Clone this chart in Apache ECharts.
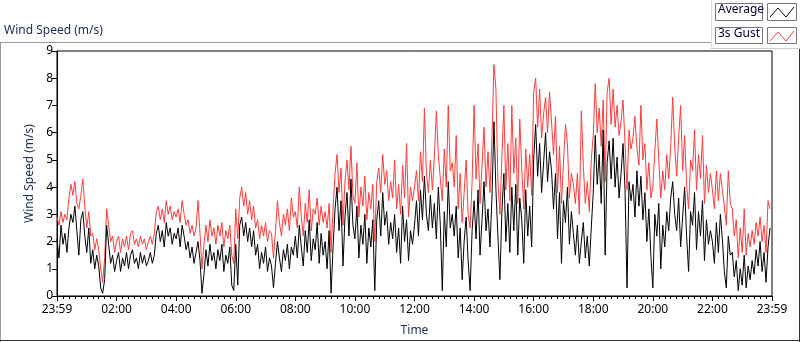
<!DOCTYPE html>
<html>
<head>
    <meta charset="utf-8">
    <title>Wind Speed</title>
    <script src="https://cdn.jsdelivr.net/npm/echarts@6/dist/echarts.min.js"></script>
    <style>
        body { margin: 0; background: #fff; }
    </style>
</head>
<body>
    <div id="windChart" style="width:800px; height:342px;"></div>
    <script>
        // one sample every 4 minutes, starting at 23:59
        var stepMin = 4;
        var tickLabels = ['23:59', '02:00', '04:00', '06:00', '08:00', '10:00', '12:00',
                          '14:00', '16:00', '18:00', '20:00', '22:00', '23:59'];

        var avgData = [
            2.1,1.4,2.6,1.9,2.3,1.6,2.5,3.0,2.7,3.3,
            2.4,1.5,2.8,3.1,2.2,1.6,2.5,1.2,1.7,1.0,
            1.5,1.1,0.3,0.1,0.6,2.6,1.9,1.2,1.5,0.9,
            1.3,1.6,0.9,1.4,1.1,1.6,1.0,1.5,1.7,1.2,
            1.4,1.0,1.6,1.2,1.5,1.1,1.3,1.6,1.2,1.5,
            2.3,2.6,2.0,2.4,1.8,2.7,2.2,2.5,1.9,2.3,
            2.1,2.5,1.8,2.6,2.2,1.7,2.0,1.4,1.8,1.2,
            1.6,2.0,1.3,0.1,0.8,1.7,1.1,1.9,1.3,1.6,
            1.0,1.7,1.3,1.9,0.9,1.5,1.2,1.8,0.4,0.2,
            1.9,0.4,2.6,2.9,2.2,2.7,2.0,2.5,1.8,2.4,
            1.5,1.9,1.0,1.6,1.2,1.8,0.9,1.4,1.1,0.3,
            1.2,2.0,1.4,0.9,1.7,1.3,1.9,1.0,1.8,1.5,
            2.2,1.4,2.6,1.8,1.1,2.4,1.6,2.8,1.3,2.1,
            1.7,2.7,1.2,2.3,1.5,2.0,1.0,2.4,0.1,1.8,
            3.2,4.0,2.4,3.5,1.1,2.9,3.8,2.2,4.3,2.6,
            2.1,3.3,1.4,2.6,1.9,3.0,1.2,2.5,1.8,2.8,
            0.2,2.8,3.5,2.2,3.8,2.6,3.1,1.9,2.7,2.1,
            3.0,1.6,2.5,1.2,3.3,2.0,2.8,1.3,2.4,1.9,
            2.6,3.5,2.2,3.9,2.8,4.4,3.0,2.4,3.7,2.5,
            3.4,2.1,4.0,2.6,0.2,3.1,1.8,4.2,2.5,3.0,
            2.2,3.3,1.4,2.5,0.6,2.0,2.9,1.3,0.2,2.4,
            3.5,2.1,3.9,1.5,2.8,4.2,2.4,3.2,1.8,3.6,
            6.4,3.9,2.2,0.6,3.1,4.5,2.0,3.4,1.6,4.0,
            2.4,4.1,1.5,3.6,2.8,1.2,3.9,2.2,3.3,1.8,
            5.0,6.3,4.4,5.6,3.8,4.9,6.0,4.2,5.3,4.6,
            3.2,4.5,2.1,3.8,1.2,3.5,2.7,4.0,1.9,3.1,
            2.3,1.5,2.6,1.2,2.0,2.7,1.4,2.2,1.1,2.5,
            3.8,5.9,4.1,5.2,3.4,6.1,1.5,4.9,5.7,4.3,
            5.8,4.0,5.1,3.6,4.5,5.6,3.9,0.3,4.2,3.5,
            4.1,2.9,4.6,3.3,4.4,2.8,3.8,2.0,3.2,1.5,
            0.3,3.0,2.2,3.4,1.0,2.6,1.8,3.1,2.4,3.6,
            4.2,3.0,2.4,3.6,1.8,2.9,4.0,2.2,0.9,3.1,
            2.6,3.8,1.7,3.1,2.2,3.5,1.3,2.8,1.9,2.4,
            2.0,1.2,2.7,1.6,3.0,2.1,0.9,0.3,2.2,1.5,
            1.6,0.7,1.3,0.2,1.0,0.4,1.5,0.3,1.1,0.6,
            1.3,0.8,1.7,1.1,2.0,0.9,1.6,0.5,1.8,2.5
        ];

        var gustData = [
            2.9,2.6,3.1,2.7,3.0,2.8,3.6,4.1,3.7,4.2,
            3.4,3.2,3.7,4.3,3.3,2.5,3.1,2.2,2.3,1.7,
            2.1,1.7,1.0,0.5,1.4,3.2,2.6,2.0,2.2,1.6,
            2.0,2.2,1.6,2.1,1.8,2.2,1.7,2.3,2.4,1.9,
            2.1,1.8,2.2,1.9,2.1,1.7,2.0,2.2,1.9,2.3,
            3.1,3.3,2.8,3.2,2.7,3.5,3.0,3.3,2.8,3.1,
            2.9,3.2,2.7,3.5,3.0,2.6,2.8,2.3,2.6,2.2,
            2.5,3.5,2.3,1.0,1.9,2.6,2.0,2.8,2.2,2.5,
            1.9,2.6,2.2,2.7,1.8,2.4,2.1,2.6,1.5,1.2,
            3.2,2.1,3.6,4.0,3.3,3.8,3.0,3.5,2.8,3.3,
            2.5,2.8,2.1,2.6,2.2,2.7,2.0,2.4,2.3,1.4,
            2.4,3.5,2.7,2.2,3.0,2.6,3.2,2.4,3.6,2.9,
            3.1,2.5,4.0,2.9,2.2,3.4,2.7,3.9,2.4,3.2,
            3.0,3.6,2.6,3.3,2.7,3.1,2.5,3.4,1.6,3.2,
            4.5,5.2,3.8,4.7,2.6,4.2,5.0,3.9,5.5,3.7,
            3.4,4.9,2.9,4.0,3.3,4.4,2.8,3.8,3.2,4.1,
            2.0,4.2,4.7,3.8,5.2,4.1,4.6,3.5,4.2,3.6,
            5.0,3.2,4.1,3.0,4.8,3.6,5.6,2.9,4.0,3.5,
            4.0,4.6,3.5,5.3,4.2,6.9,4.5,3.8,5.0,3.9,
            5.1,6.8,5.2,4.3,3.5,5.4,4.0,7.0,4.6,4.9,
            4.0,5.9,3.2,4.5,2.7,3.8,5.0,3.0,2.5,4.2,
            7.0,4.3,5.6,3.4,4.8,6.2,4.0,5.3,3.8,5.8,
            8.5,7.6,4.2,3.0,5.1,7.0,3.9,5.6,3.5,7.0,
            4.5,5.8,3.4,6.5,4.7,3.2,5.4,4.0,5.2,3.7,
            7.5,8.0,6.2,7.6,5.8,6.7,7.3,6.0,7.5,6.4,
            5.2,6.6,3.8,5.5,3.4,4.9,6.3,5.6,3.6,4.5,
            4.1,3.4,4.5,3.0,6.8,4.8,3.4,4.2,3.1,5.0,
            5.9,7.8,6.0,6.9,5.5,7.2,4.2,7.5,8.0,6.3,
            7.6,6.2,7.0,5.9,6.4,7.2,5.6,3.9,6.1,5.4,
            5.8,6.6,5.4,4.8,7.0,5.0,5.6,3.9,4.9,3.6,
            4.0,5.3,6.5,5.0,3.6,4.6,3.9,5.2,4.3,5.5,
            7.3,5.5,4.4,5.8,7.0,4.6,5.9,4.1,3.2,5.0,
            4.6,6.1,3.9,5.2,4.3,5.9,3.4,4.8,3.8,4.5,
            3.9,3.2,4.6,3.5,4.5,3.9,3.3,2.6,4.6,3.4,
            3.2,2.2,2.8,1.4,2.5,1.6,3.2,1.5,2.3,1.8,
            2.4,1.9,2.7,2.2,2.9,2.0,2.6,1.6,3.5,3.2
        ];

        var toPairs = function(arr){
            return arr.map(function(v, i){ return [i * stepMin, v]; });
        };

        var navy = '#1c2b55';
        var font = 'Noto Sans';

        var chart = echarts.init(document.getElementById('windChart'), null, {renderer: 'canvas'});
        var option = {
            animation: false,
            backgroundColor: '#fff',
            textStyle: { fontFamily: font },
            grid: {
                left: 57, right: 28, top: 51, bottom: 40,
                show: true, borderColor: '#000', borderWidth: 1
            },
            xAxis: {
                type: 'value',
                min: 0, max: 1440, interval: 120,
                name: 'Time',
                nameLocation: 'middle',
                nameGap: 29,
                nameTextStyle: { color: navy, fontSize: 12, fontFamily: font },
                axisLine: { lineStyle: { color: '#000' } },
                axisTick: { length: 5, lineStyle: { color: '#000' } },
                minorTick: { show: true, splitNumber: 10, length: 3, lineStyle: { color: '#000' } },
                axisLabel: {
                    color: '#000', fontSize: 12, margin: 8, fontFamily: font,
                    formatter: function(v){ return tickLabels[Math.round(v / 120)]; }
                },
                splitLine: { show: false }
            },
            yAxis: {
                type: 'value',
                min: 0, max: 9, interval: 1,
                name: 'Wind Speed (m/s)',
                nameLocation: 'middle',
                nameGap: 19,
                nameTextStyle: { color: navy, fontSize: 12, fontFamily: font },
                axisLine: { show: true, lineStyle: { color: '#000' } },
                axisTick: { show: true, length: 5, lineStyle: { color: '#000' } },
                axisLabel: { color: '#000', fontSize: 12, margin: 4, fontFamily: font },
                splitLine: { show: false }
            },
            series: [
                {
                    name: '3s Gust',
                    type: 'line',
                    showSymbol: false,
                    lineStyle: { width: 1, color: '#ff3c3c' },
                    itemStyle: { color: '#ff3c3c' },
                    data: toPairs(gustData)
                },
                {
                    name: 'Average',
                    type: 'line',
                    showSymbol: false,
                    lineStyle: { width: 1, color: '#000' },
                    itemStyle: { color: '#000' },
                    data: toPairs(avgData)
                }
            ],
            graphic: [
                // title above the plot
                { type: 'text', left: 4, top: 25, style: { text: 'Wind Speed (m/s)', fill: navy, font: '12px "Noto Sans"' } },
                // outer frame
                { type: 'line', shape: { x1: 0, y1: 42.5, x2: 712, y2: 42.5 }, style: { stroke: '#999', lineWidth: 1 } },
                { type: 'line', shape: { x1: 0.5, y1: 42, x2: 0.5, y2: 342 }, style: { stroke: '#999', lineWidth: 1 } },
                { type: 'line', shape: { x1: 0, y1: 340.5, x2: 800, y2: 340.5 }, style: { stroke: '#333', lineWidth: 1 } },
                { type: 'line', shape: { x1: 799.5, y1: 48, x2: 799.5, y2: 342 }, style: { stroke: '#333', lineWidth: 1 } },
                // legend panel
                { type: 'line', shape: { x1: 711.5, y1: 0, x2: 711.5, y2: 48 }, style: { stroke: '#ddd', lineWidth: 1 } },
                { type: 'line', shape: { x1: 711, y1: 48.5, x2: 800, y2: 48.5 }, style: { stroke: '#ccc', lineWidth: 1 } },
                { type: 'rect', shape: { x: 715.5, y: 3.5, width: 47, height: 17 }, style: { fill: '#fff', stroke: '#777', lineWidth: 1 } },
                { type: 'text', left: 718, top: 4, style: { text: 'Average', fill: '#000030', font: '12px "Noto Sans"' } },
                { type: 'rect', shape: { x: 767.5, y: 3.5, width: 29, height: 17 }, style: { fill: '#fff', stroke: '#777', lineWidth: 1 } },
                { type: 'polyline', shape: { points: [[770, 17], [778, 8], [786, 17], [794, 7]] }, style: { stroke: '#000', lineWidth: 1, fill: null } },
                { type: 'rect', shape: { x: 715.5, y: 27.5, width: 47, height: 16 }, style: { fill: '#fff', stroke: '#777', lineWidth: 1 } },
                { type: 'text', left: 718, top: 28, style: { text: '3s Gust', fill: '#000030', font: '12px "Noto Sans"' } },
                { type: 'rect', shape: { x: 767.5, y: 27.5, width: 29, height: 16 }, style: { fill: '#fff', stroke: '#777', lineWidth: 1 } },
                { type: 'polyline', shape: { points: [[770, 41], [778, 32], [786, 41], [794, 31]] }, style: { stroke: '#ff3c3c', lineWidth: 1, fill: null } }
            ]
        };
        chart.setOption(option);
    </script>
</body>
</html>
